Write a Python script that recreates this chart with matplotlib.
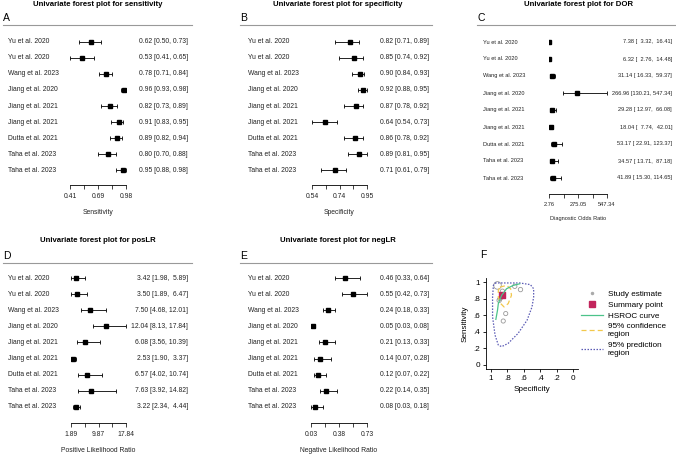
import numpy as np
import matplotlib
matplotlib.use("Agg")
from matplotlib import pyplot as plt
from matplotlib.lines import Line2D
from matplotlib.transforms import blended_transform_factory

plt.rcParams["font.family"] = ["Liberation Sans", "DejaVu Sans"]

# ---- data ----
studies = ["Yu et al. 2020", "Yu et al. 2020", "Wang et al. 2023", "Jiang et al. 2020",
           "Jiang et al. 2021", "Jiang et al. 2021", "Dutta et al. 2021",
           "Taha et al. 2023", "Taha et al. 2023"]

sens = [0.62, 0.53, 0.78, 0.96, 0.82, 0.91, 0.89, 0.80, 0.95]
sens_lo = [0.50, 0.41, 0.71, 0.93, 0.73, 0.83, 0.82, 0.70, 0.88]
sens_hi = [0.73, 0.65, 0.84, 0.98, 0.89, 0.95, 0.94, 0.88, 0.98]

spec = [0.82, 0.85, 0.90, 0.92, 0.87, 0.64, 0.86, 0.89, 0.71]
spec_lo = [0.71, 0.74, 0.84, 0.88, 0.78, 0.54, 0.78, 0.81, 0.61]
spec_hi = [0.89, 0.92, 0.93, 0.95, 0.92, 0.73, 0.92, 0.95, 0.79]

dor = [7.38, 6.32, 31.14, 266.96, 29.28, 18.04, 53.17, 34.57, 41.89]
dor_lo = [3.32, 2.76, 16.33, 130.21, 12.97, 7.74, 22.91, 13.71, 15.30]
dor_hi = [16.41, 14.48, 59.37, 547.34, 66.08, 42.01, 123.37, 87.18, 114.65]

plr = [3.42, 3.50, 7.50, 12.04, 6.08, 2.53, 6.57, 7.63, 3.22]
plr_lo = [1.98, 1.89, 4.68, 8.13, 3.56, 1.90, 4.02, 3.92, 2.34]
plr_hi = [5.89, 6.47, 12.01, 17.84, 10.39, 3.37, 10.74, 14.82, 4.44]

nlr = [0.46, 0.55, 0.24, 0.05, 0.21, 0.14, 0.12, 0.22, 0.08]
nlr_lo = [0.33, 0.42, 0.18, 0.03, 0.13, 0.07, 0.07, 0.14, 0.03]
nlr_hi = [0.64, 0.73, 0.33, 0.08, 0.33, 0.28, 0.22, 0.35, 0.18]

sens_ticks = ["0.41", "0.69", "0.98"]
spec_ticks = ["0.54", "0.74", "0.95"]
dor_ticks = ["2.76", "275.05", "547.34"]
plr_ticks = ["1.89", "9.87", "17.84"]
nlr_ticks = ["0.03", "0.38", "0.73"]

# SROC panel
study_weight = [9, 9, 10, 30, 9, 10, 10, 9, 10]
summary_spec, summary_sens = 0.86, 0.85
hsroc_spec = [0.94, 0.92, 0.91, 0.87, 0.81, 0.73, 0.65]
hsroc_sens = [0.55, 0.66, 0.74, 0.84, 0.92, 0.96, 0.98]
conf_spec = [0.89, 0.81, 0.76, 0.75, 0.79, 0.84, 0.88, 0.91, 0.91, 0.89]
conf_sens = [0.94, 0.96, 0.92, 0.84, 0.74, 0.70, 0.74, 0.82, 0.90, 0.94]
pred_spec = [0.95, 0.81, 0.65, 0.52, 0.48, 0.48, 0.50, 0.56, 0.67, 0.79, 0.87,
             0.91, 0.95, 0.98, 0.98, 0.97, 0.95]
pred_sens = [0.99, 0.99, 0.99, 0.97, 0.92, 0.82, 0.70, 0.54, 0.38, 0.26, 0.22,
             0.24, 0.36, 0.58, 0.82, 0.96, 0.99]

W, H = 676, 454
fig = plt.figure(figsize=(W / 100, H / 100), dpi=100)


def fx(x):
    return x / W


def fy(y):
    return 1 - y / H


def forest(title, letter, xlabel, est, lo, hi, ticklabels, ox, oy, x0, x1,
           lab_x, val_x, line_x1, title_x, letter_x, fs, row0=42, step=16, axis_y=185,
           title_y=5):
    n = len(est)
    xmin, xmax = min(lo), max(hi)
    bottom = (axis_y - row0) / step
    ax = fig.add_axes([fx(ox + x0), fy(oy + axis_y), (x1 - x0) / W, (axis_y - row0 + step / 2) / H])
    ax.set_xlim(xmin, xmax)
    ax.set_ylim(bottom, -0.5)
    rows = np.arange(n)
    ax.errorbar(est, rows, xerr=[np.array(est) - np.array(lo), np.array(hi) - np.array(est)],
                fmt="s", color="black", ms=2.2, elinewidth=0.6, capsize=1.7, capthick=0.6)
    for s in ["top", "left", "right"]:
        ax.spines[s].set_visible(False)
    ax.spines["bottom"].set_linewidth(0.6)
    ax.set_yticks([])
    ticks = np.linspace(xmin, xmax, 5)
    ax.set_xticks(ticks)
    ax.set_xticklabels([ticklabels[0], "", ticklabels[1], "", ticklabels[2]], fontsize=fs)
    ax.tick_params(axis="x", length=3, width=0.6, pad=3, colors="#222")
    ax.set_xlabel(xlabel, fontsize=fs, labelpad=6, color="#222")

    tr = blended_transform_factory(fig.transFigure, ax.transData)
    wl = max(len(f"{v:.2f}") for v in lo)
    wh = max(len(f"{v:.2f}") for v in hi)
    for i in range(n):
        ax.text(fx(ox + lab_x), i, studies[i], transform=tr, fontsize=fs,
                va="center", ha="left", color="#222", clip_on=False)
        txt = f"{est[i]:.2f} [{lo[i]:{wl}.2f}, {hi[i]:{wh}.2f}]"
        ax.text(fx(ox + val_x), i, txt, transform=tr, fontsize=fs,
                va="center", ha="right", color="#222", clip_on=False)

    fig.text(fx(ox + title_x), fy(oy + title_y), title, fontsize=5.6, fontweight="bold",
             ha="center", va="center")
    fig.text(fx(ox + letter_x), fy(oy + 18), letter, fontsize=7.5, ha="left", va="center")
    fig.add_artist(Line2D([fx(ox + letter_x), fx(ox + line_x1)], [fy(oy + 25), fy(oy + 25)],
                          color="#999", lw=0.8))


forest("Univariate forest plot for sensitivity", "A", "Sensitivity",
       sens, sens_lo, sens_hi, sens_ticks, 0, 0, 70, 126, 8, 188, 192, 98, 3, 4.9)
forest("Univariate forest plot for specificity", "B", "Specificity",
       spec, spec_lo, spec_hi, spec_ticks, 220, 0, 92, 147, 28, 209, 212, 118, 20, 4.9)
forest("Univariate forest plot for DOR", "C", "Diagnostic Odds Ratio",
       dor, dor_lo, dor_hi, dor_ticks, 440, 0, 109, 167, 43, 232, 236, 138, 37, 4.1,
       row0=42, step=17, axis_y=194)
forest("Univariate forest plot for posLR", "D", "Positive Likelihood Ratio",
       plr, plr_lo, plr_hi, plr_ticks, 0, 238, 71, 126, 8, 188, 192, 98, 3, 4.9,
       row0=40, step=16.1, title_y=2)
forest("Univariate forest plot for negLR", "E", "Negative Likelihood Ratio",
       nlr, nlr_lo, nlr_hi, nlr_ticks, 220, 238, 91, 147, 28, 209, 212, 118, 20, 4.9,
       row0=40, step=16.1, title_y=2)

# ---- F: SROC plot ----
axf = fig.add_axes([fx(486), fy(369), (578 - 486) / W, (369 - 278) / H])
axf.set_xlim(1.06, -0.06)
axf.set_ylim(-0.05, 1.05)
axf.plot(pred_spec, pred_sens, color="#5b5bb5", lw=0.9, ls=(0, (1.2, 1.2)))
axf.plot(conf_spec, conf_sens, color="#f2c84b", lw=0.9, ls=(0, (4, 2.5)))
axf.plot(hsroc_spec, hsroc_sens, color="#4cc38a", lw=0.9)
axf.scatter(spec, sens, s=study_weight, facecolors="none", edgecolors="#999", linewidths=0.6)
axf.scatter([summary_spec], [summary_sens], marker="s", s=22, color="#c2255c")
for s in ["top", "right"]:
    axf.spines[s].set_visible(False)
for s in ["left", "bottom"]:
    axf.spines[s].set_linewidth(0.6)
axf.set_xticks([1, 0.8, 0.6, 0.4, 0.2, 0])
axf.set_xticklabels(["1", ".8", ".6", ".4", ".2", "0"])
axf.set_yticks([0, 0.2, 0.4, 0.6, 0.8, 1])
axf.set_yticklabels(["0", ".2", ".4", ".6", ".8", "1"])
axf.tick_params(labelsize=5.9, length=2.5, width=0.6, pad=2)
axf.set_xlabel("Specificity", fontsize=5.9, labelpad=3)
axf.set_ylabel("Sensitivity", fontsize=5.9, labelpad=3)
fig.text(fx(480), fy(255), "F", fontsize=7.5, ha="left", va="center")

handles = [
    Line2D([], [], ls="none", marker="o", ms=1.5, color="#aaa"),
    Line2D([], [], ls="none", marker="s", ms=4, color="#c2255c"),
    Line2D([], [], color="#4cc38a", lw=0.9),
    Line2D([], [], color="#f2c84b", lw=0.9, ls=(0, (4, 2.5))),
    Line2D([], [], color="#5b5bb5", lw=0.9, ls=(0, (1.2, 1.2))),
]
labels = ["Study estimate", "Summary point", "HSROC curve",
          "95% confidence\nregion", "95% prediction\nregion"]
fig.legend(handles, labels, loc="upper left", bbox_to_anchor=(fx(578), fy(287)),
           frameon=False, fontsize=5.9, handlelength=2.6, handletextpad=0.6,
           labelspacing=0.4, borderaxespad=0)

fig.savefig("out.png", dpi=100)
